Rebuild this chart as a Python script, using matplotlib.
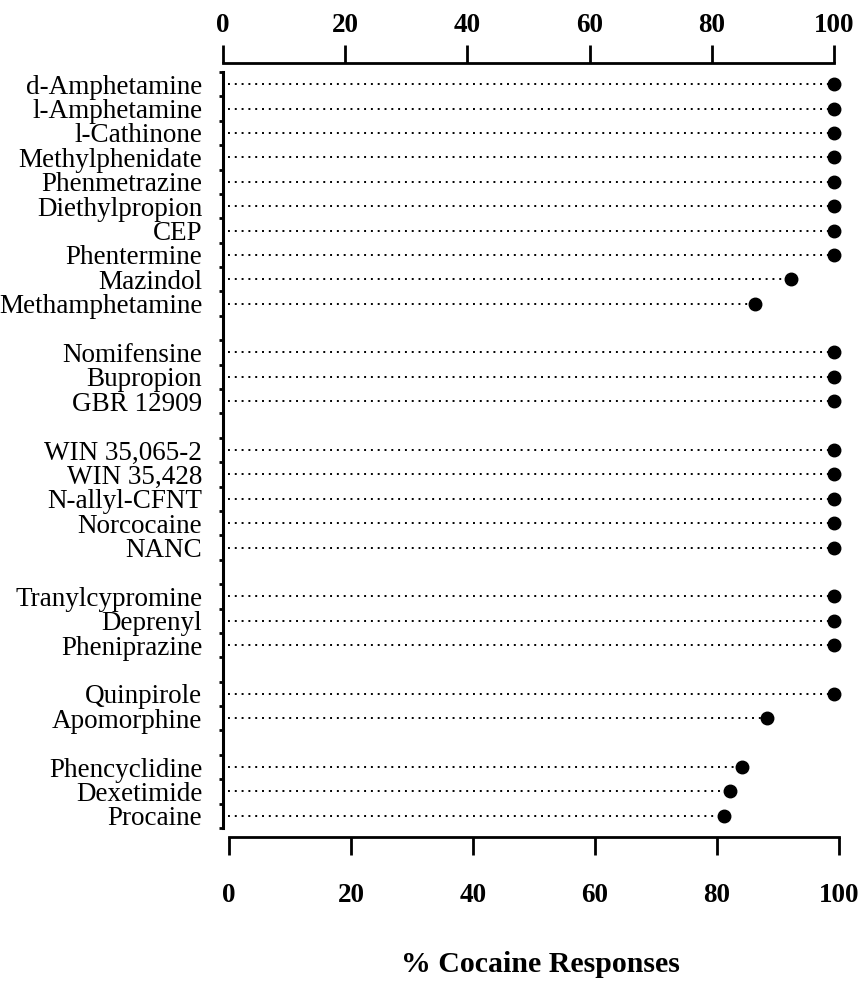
import numpy as np
import matplotlib
matplotlib.use("Agg")
import matplotlib.pyplot as plt

"""
Dot plot of % cocaine-appropriate responding per test drug, grouped by class.
"""

plt.rcParams['font.family'] = ['Liberation Serif', 'DejaVu Serif']

# Drug names, top to bottom, with the group each one belongs to
drugs = ["d-Amphetamine", "l-Amphetamine", "l-Cathinone", "Methylphenidate",
         "Phenmetrazine", "Diethylpropion", "CEP", "Phentermine", "Mazindol",
         "Methamphetamine",
         "Nomifensine", "Bupropion", "GBR 12909",
         "WIN 35,065-2", "WIN 35,428", "N-allyl-CFNT", "Norcocaine", "NANC",
         "Tranylcypromine", "Deprenyl", "Pheniprazine",
         "Quinpirole", "Apomorphine",
         "Phencyclidine", "Dexetimide", "Procaine"]
groups = [0] * 10 + [1] * 3 + [2] * 5 + [3] * 3 + [4] * 2 + [5] * 3

# % cocaine responses
responses = [100, 100, 100, 100, 100, 100, 100, 100, 93, 87,
             100, 100, 100,
             100, 100, 100, 100, 100,
             100, 100, 100,
             100, 89,
             85, 83, 82]

x_ticks = [0, 20, 40, 60, 80, 100]

# Row slots: one blank slot between groups
slots = np.arange(len(drugs)) + np.array(groups)
n_slots = slots[-1] + 1

W, H = 861, 990
fig = plt.figure(figsize=(W / 100, H / 100), dpi=100)

# main panel (top axis + left spine)
ax = fig.add_axes([223 / W, 1 - 828 / H, 611 / W, 756 / H])
ax.set_xlim(0, 100)
ax.set_ylim(n_slots - 0.5, -0.5)

for s, v in zip(slots, responses):
    ax.plot([0.8, v], [s, s], color="black", lw=1.4,
            linestyle=(0, (1, 2.5)), clip_on=False)
    ax.plot(v, s, "o", color="black", ms=9, clip_on=False)

for side in ["right", "bottom"]:
    ax.spines[side].set_visible(False)
ax.spines["left"].set_linewidth(2.2)
ax.spines["top"].set_linewidth(2.0)
ax.spines["top"].set_position(("outward", 6.5))

ax.xaxis.tick_top()
ax.set_xticks(x_ticks)
ax.set_xticklabels([str(t) for t in x_ticks], fontsize=19.5, fontweight="bold")
ax.tick_params(axis="x", direction="out", length=13, width=2.0, pad=5)

ax.set_yticks(slots)
ax.set_yticklabels(drugs, fontsize=19.5)
ax.tick_params(axis="y", which="major", length=0, pad=15)
ax.set_yticks(np.arange(-0.5, n_slots, 1.0), minor=True)
ax.tick_params(axis="y", which="minor", direction="out", length=3, width=2)

# separate bottom axis (slightly shifted in the original scan)
axb = fig.add_axes([229 / W, 1 - 837 / H, 610 / W, 0.0001])
axb.set_xlim(0, 100)
axb.set_yticks([])
for side in ["left", "right", "top"]:
    axb.spines[side].set_visible(False)
axb.spines["bottom"].set_linewidth(2.0)
axb.set_xticks(x_ticks)
axb.set_xticklabels([str(t) for t in x_ticks], fontsize=19.5, fontweight="bold")
axb.tick_params(axis="x", direction="out", length=13, width=2.0, pad=20)
axb.patch.set_visible(False)

fig.text(540 / W, 1 - 965 / H, "% Cocaine Responses",
         ha="center", va="center", fontsize=21.5, fontweight="bold")

fig.savefig("out.png", dpi=100)
